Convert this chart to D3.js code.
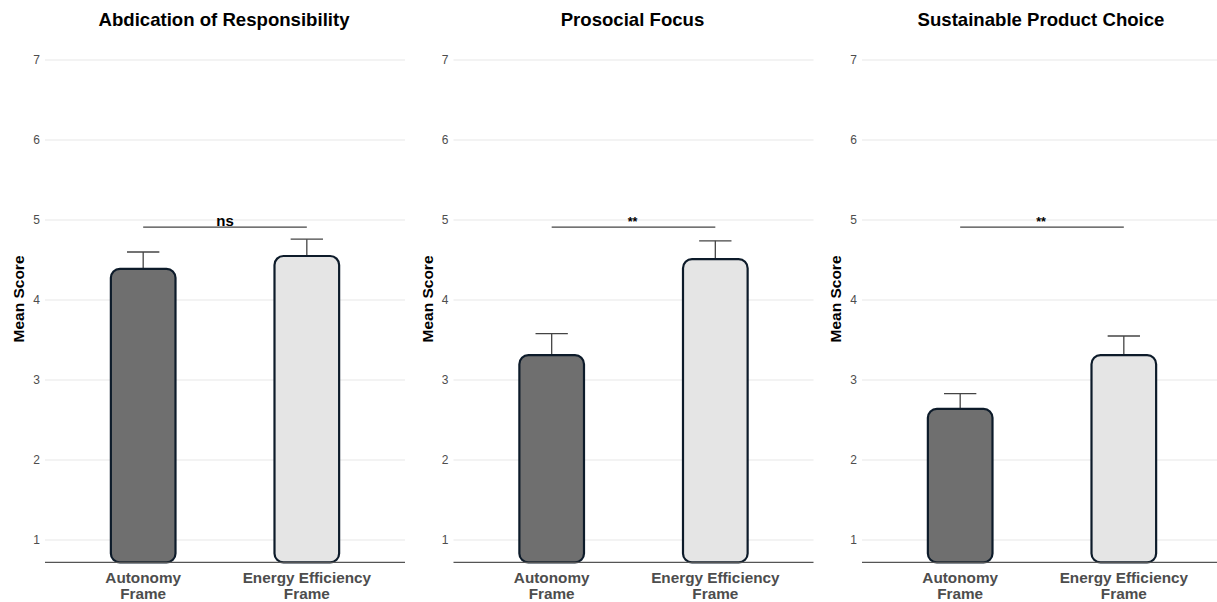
<!DOCTYPE html>
<html>
<head>
<meta charset="utf-8">
<script src="https://cdn.jsdelivr.net/npm/d3@7"></script>
<style>
  html, body { margin: 0; padding: 0; background: #ffffff; }
  svg { display: block; font-family: "Liberation Sans", Arial, sans-serif; }
</style>
</head>
<body>
<svg id="chart" width="1217" height="602"></svg>
<script>
// ---- data ----
const panelTitles = ["Abdication of Responsibility", "Prosocial Focus", "Sustainable Product Choice"];
const categories = ["Autonomy Frame", "Energy Efficiency Frame"];
const categoryLines = [["Autonomy", "Frame"], ["Energy Efficiency", "Frame"]];
const autonomyMeans = [4.39, 3.31, 2.64];
const energyMeans = [4.55, 4.51, 3.31];
const autonomyErr = [0.21, 0.27, 0.19];
const energyErr = [0.21, 0.23, 0.24];
const sigLabels = ["ns", "**", "**"];
const sigBracket = [4.91, 4.91, 4.91];
const yTicks = [1, 2, 3, 4, 5, 6, 7];
const barColors = ["#6f6f6f", "#e5e5e5"];

// ---- layout ----
const svg = d3.select("#chart");
const panelLeft = [45, 453.5, 862];
const panelWidth = 360;
const plotTop = 36, plotBottom = 564;

const y = d3.scaleLinear().domain([0.7, 7.3]).range([plotBottom, plotTop]);
const baseVal = 0.72;

panelTitles.forEach((title, i) => {
  const x0 = panelLeft[i];
  const x = d3.scalePoint().domain(categories).range([x0, x0 + panelWidth]).padding(0.6);
  const step = x.step();
  const bw = step * 0.395;
  const g = svg.append("g");

  // gridlines
  g.selectAll("line.grid").data(yTicks).enter().append("line")
    .attr("x1", x0).attr("x2", x0 + panelWidth)
    .attr("y1", d => y(d)).attr("y2", d => y(d))
    .attr("stroke", "#e8e8e8").attr("stroke-width", 1.2);

  // y tick labels
  g.selectAll("text.yt").data(yTicks).enter().append("text")
    .attr("x", x0 - 5).attr("y", d => y(d)).attr("dy", "0.35em")
    .attr("text-anchor", "end").attr("font-size", 12).attr("fill", "#4d4d4d")
    .text(d => d);

  // y axis title
  g.append("text")
    .attr("transform", `translate(${x0 - 21},${(plotTop + plotBottom) / 2 - 1}) rotate(-90)`)
    .attr("text-anchor", "middle").attr("font-size", 15.5).attr("font-weight", "bold")
    .attr("fill", "#000").text("Mean Score");

  // title
  g.append("text")
    .attr("x", x0 + panelWidth / 2 - 1).attr("y", 25.5)
    .attr("text-anchor", "middle").attr("font-size", 18.6).attr("font-weight", "bold")
    .attr("fill", "#000").text(title);

  const rows = [
    { cat: categories[0], mean: autonomyMeans[i], err: autonomyErr[i], fill: barColors[0] },
    { cat: categories[1], mean: energyMeans[i], err: energyErr[i], fill: barColors[1] }
  ];

  // error bars (upper only)
  rows.forEach(r => {
    const cx = x(r.cat);
    g.append("line").attr("x1", cx).attr("x2", cx)
      .attr("y1", y(r.mean)).attr("y2", y(r.mean + r.err))
      .attr("stroke", "#444").attr("stroke-width", 1.3);
    g.append("line").attr("x1", cx - bw / 4).attr("x2", cx + bw / 4)
      .attr("y1", y(r.mean + r.err)).attr("y2", y(r.mean + r.err))
      .attr("stroke", "#444").attr("stroke-width", 1.3);
  });

  // bars
  g.selectAll("rect.bar").data(rows).enter().append("rect")
    .attr("x", d => x(d.cat) - bw / 2)
    .attr("width", bw)
    .attr("y", d => y(d.mean))
    .attr("height", d => y(baseVal) - y(d.mean))
    .attr("rx", 9).attr("ry", 9)
    .attr("fill", d => d.fill)
    .attr("stroke", "#0d1b2a").attr("stroke-width", 2.2);

  // x axis line
  g.append("line").attr("x1", x0).attr("x2", x0 + panelWidth)
    .attr("y1", y(baseVal)).attr("y2", y(baseVal))
    .attr("stroke", "#555").attr("stroke-width", 1.3);

  // x tick labels
  categories.forEach((c, k) => {
    const t = g.append("text").attr("x", x(c)).attr("y", 582.5)
      .attr("text-anchor", "middle").attr("font-size", 15.3).attr("font-weight", "bold")
      .attr("fill", "#4d4d4d");
    categoryLines[k].forEach((ln, j) => {
      t.append("tspan").attr("x", x(c)).attr("dy", j === 0 ? 0 : 16.8).text(ln);
    });
  });

  // significance bracket
  const xa = x(categories[0]), xb = x(categories[1]);
  g.append("line").attr("x1", xa).attr("x2", xb)
    .attr("y1", y(sigBracket[i])).attr("y2", y(sigBracket[i]))
    .attr("stroke", "#444").attr("stroke-width", 1.2);
  g.append("text")
    .attr("x", (xa + xb) / 2 + (sigLabels[i] === "ns" ? 0 : -1))
    .attr("y", y(sigBracket[i]) - 1)
    .attr("text-anchor", "middle")
    .attr("font-size", sigLabels[i] === "ns" ? 15 : 12.5)
    .attr("font-weight", "bold").attr("fill", "#000")
    .text(sigLabels[i]);
});
</script>
</body>
</html>
